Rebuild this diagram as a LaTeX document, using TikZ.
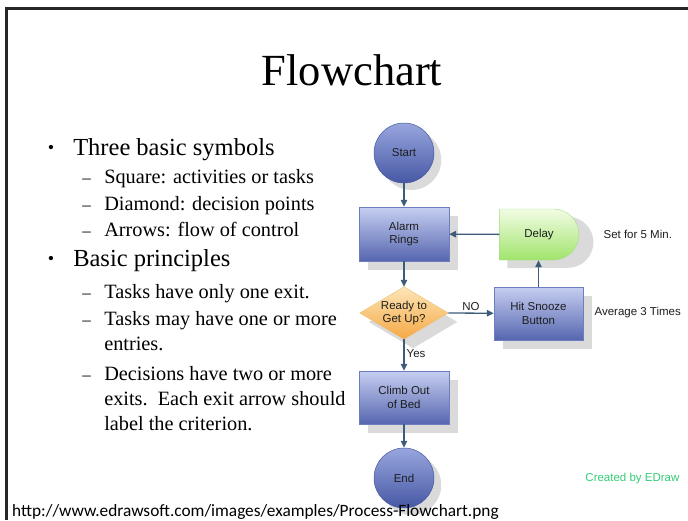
\documentclass[tikz,border=0pt]{standalone}
\usepackage{fontspec}
\setmainfont{Liberation Serif}
\newfontfamily\chartfont{Liberation Sans}
\newfontfamily\sourcefont{Carlito}
\usetikzlibrary{arrows.meta,shapes.misc,backgrounds,positioning}

\definecolor{boxtop}{RGB}{198,207,241}
\definecolor{boxbot}{RGB}{86,102,176}
\definecolor{boxedge}{RGB}{110,125,190}
\definecolor{termtop}{RGB}{152,166,222}
\definecolor{termbot}{RGB}{70,88,164}
\definecolor{delaytop}{RGB}{242,252,228}
\definecolor{delaybot}{RGB}{160,228,108}
\definecolor{delayedge}{RGB}{170,220,140}
\definecolor{diamtop}{RGB}{253,230,184}
\definecolor{diambot}{RGB}{245,168,68}
\definecolor{diamedge}{RGB}{240,190,120}
\definecolor{flowline}{RGB}{62,92,122}
\definecolor{shadowgray}{RGB}{218,218,218}
\definecolor{charttext}{RGB}{30,30,30}
\definecolor{edrawgreen}{RGB}{52,204,118}

\newcommand{\dotmark}{\makebox[26pt][l]{\hspace{0.5pt}\raisebox{0.08em}{\fontsize{18}{18}\selectfont\textbullet}}}
\newcommand{\dashmark}{\makebox[22pt][l]{\fontsize{17}{17}\selectfont--}}

\tikzset{every picture/.style={line width=0.5pt}}
\tikzset{
  chart/.style={font=\chartfont\fontsize{11.5}{13.5}\selectfont, text=charttext, align=center},
  process/.style={chart, rectangle, minimum width=90pt, minimum height=54pt, top color=boxtop, bottom color=boxbot, draw=boxedge, line width=0.4pt},
  terminal/.style={chart, circle, minimum size=60pt, inner sep=0pt, top color=termtop, bottom color=termbot, draw=termedge},
  delaybox/.style={chart, rounded rectangle, rounded rectangle left arc=none, minimum width=86pt, minimum height=51pt, top color=delaytop, bottom color=delaybot, draw=delayedge, line width=0.4pt},
  flow/.style={draw=flowline, line width=1.3pt, -{Triangle[length=7pt,width=6.5pt]}},
  shade/.style={fill=shadowgray},
  toplevel/.style={anchor=base west, inner sep=0pt, font=\fontsize{24.5}{28}\selectfont},
  sublevel/.style={anchor=base west, inner sep=0pt, font=\fontsize{20.3}{24}\selectfont}
}
\colorlet{termedge}{termbot}

\begin{document}
\begin{tikzpicture}[x=1pt,y=1pt,yscale=-1]
        \useasboundingbox (0,0) rectangle (688,520);
        %Frame
        \draw [line width=2.5pt, black!85] (6.5,520) -- (6.5,8.5) -- (688,8.5);
        %Title
        \node [anchor=base, inner sep=0pt, font=\fontsize{44.5}{50}\selectfont] (title) at (352,85) {Flowchart};

        %Bullets
        \node [toplevel] (symbols) at (47,155) {\dotmark Three basic symbols};
        \node [sublevel] (square) at (82,183) {\dashmark Square: activities or tasks};
        \node [sublevel] (diamond) at (82,210) {\dashmark Diamond: decision points};
        \node [sublevel] (arrows) at (82,236) {\dashmark Arrows: flow of control};
        \node [toplevel] (principles) at (47,266) {\dotmark Basic principles};
        \node [sublevel] (oneexit) at (82,298) {\dashmark Tasks have only one exit.};
        \node [sublevel] (entries) at (82,325) {\dashmark Tasks may have one or more};
        \node [sublevel] (entriesb) at (104,350) {entries.};
        \node [sublevel] (decisions) at (82,380) {\dashmark Decisions have two or more};
        \node [sublevel] (decisionsb) at (104,405) {exits.\ \ Each exit arrow should};
        \node [sublevel] (decisionsc) at (104,430) {label the criterion.};

        %Flowchart
        \node [terminal] (start) at (404,153) {Start};
        \node [process] (alarm) at (404,234) {Alarm\\Rings};
        \node [delaybox] (delay) at (539,234.5) {Delay};
        \node [chart, rectangle, minimum width=88pt, minimum height=52pt, inner sep=0pt] (ready) at (404,313) {Ready to\\Get Up?};
        \node [process, minimum width=89pt, minimum height=53pt] (snooze) at (538.5,313.5) {Hit Snooze\\Button};
        \node [process, minimum height=53pt] (climb) at (404,397.5) {Climb Out\\of Bed};
        \node [terminal] (end) at (404,478) {End};

        %Notes
        \node [chart, anchor=west] (delaynote) at (600,234) {Set for 5 Min.};
        \node [chart, anchor=west] (snoozenote) at (591,313) {Average 3 Times};
        \node [chart, anchor=east, text=edrawgreen] (credit) at (683,479) {Created by EDraw};
        \node [anchor=base west, inner sep=0pt, font=\sourcefont\fontsize{17.3}{20}\selectfont] (source) at (12,516) {http://www.edrawsoft.com/images/examples/Process-Flowchart.png};

        %Connectors
        \draw [flow] (start) -- (alarm);
        \draw [flow] (alarm) -- (ready.north);
        \draw [flow] (delay) -- (alarm);
        \draw [flow] (ready.east) -- node [chart, above, pos=0.5, inner sep=2pt] (nolabel) {NO} (snooze);
        \draw [flow] (snooze) -- (snooze |- delay.south);
        \draw [flow] (ready.south) -- node [chart, right, pos=0.45, inner sep=2pt] (yeslabel) {Yes} (climb);
        \draw [flow] (climb) -- (end);

        %Shadows and diamond
        \begin{scope}[on background layer]
        \fill [shade] ([shift={(7,7)}]start.east) arc [start angle=0, end angle=360, radius=30];
        \fill [shade] ([shift={(7,7)}]end.east) arc [start angle=0, end angle=360, radius=30];
        \fill [shade] ([shift={(9,9)}]alarm.south west) rectangle ([shift={(9,9)}]alarm.north east);
        \fill [shade] ([shift={(9,9)}]snooze.south west) rectangle ([shift={(9,9)}]snooze.north east);
        \fill [shade] ([shift={(9,9)}]climb.south west) rectangle ([shift={(9,9)}]climb.north east);
        \fill [shade] ([shift={(8,8)}]delay.south west) -- ([shift={(8,8)}]delay.north west) -- ++(60.5,0) arc [start angle=-90, end angle=90, radius=25.5] -- cycle;
        \fill [shade] ([shift={(9,9)}]ready.north) -- ([shift={(9,9)}]ready.east) -- ([shift={(9,9)}]ready.south) -- ([shift={(9,9)}]ready.west) -- cycle;
        \path [top color=diamtop, bottom color=diambot, draw=diamedge, line width=0.4pt] (ready.north) -- (ready.east) -- (ready.south) -- (ready.west) -- cycle;
        \end{scope}
\end{tikzpicture}
\end{document}
